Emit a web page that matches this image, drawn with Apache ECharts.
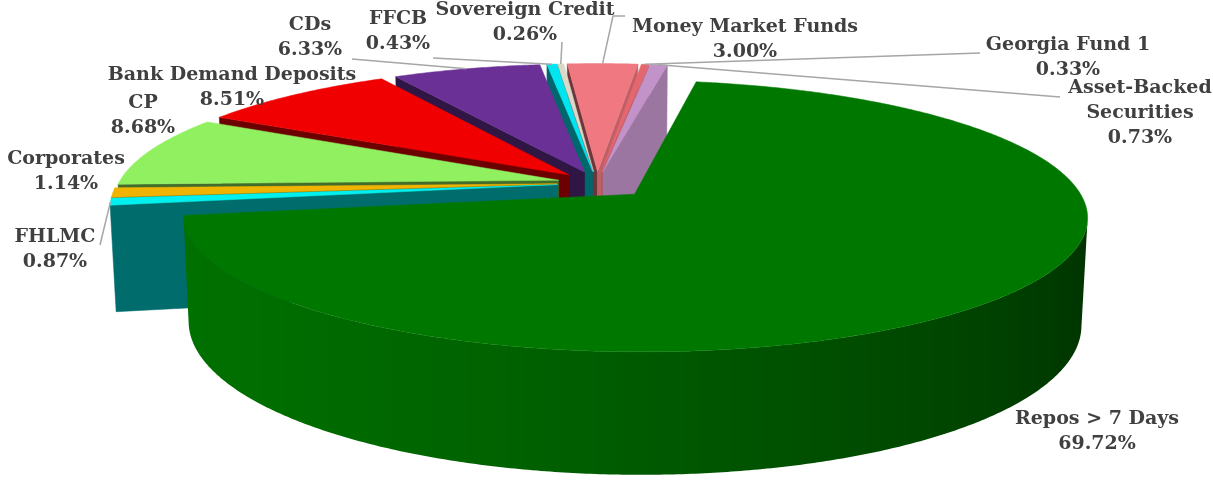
<!DOCTYPE html>
<html><head><meta charset="utf-8">
<script src="https://cdn.jsdelivr.net/npm/echarts@6/dist/echarts.min.js"></script>
<style>html,body{margin:0;padding:0;background:#fff}#c{width:1213px;height:480px}</style>
</head><body><div id="c"></div>
<script>
// ---- data ----
const categories = ['Repos > 7 Days','FHLMC','Corporates','CP','Bank Demand Deposits','CDs','FFCB','Sovereign Credit','Money Market Funds','Georgia Fund 1','Asset-Backed Securities'];
const shares = [69.72, 0.87, 1.14, 8.68, 8.51, 6.33, 0.43, 0.26, 3.00, 0.33, 0.73];

// ---- style / layout ----
const colors = ['#007800','#00f0f0','#f0b400','#90f060','#f00000','#6a3096','#00e6f0','#dcd8c8','#f07880','#e4666e','#c293c9'];
const explode = [0.12,0.09,0.09,0.09,0.09,0.09,0.09,0.09,0.09,0.09,0.09];
const labelAt = [[1097,432],[55,250],[66,172],[143,116],[232,88],[310,38],[398,32],[525,23],[745,40],[1068,58],[1140,113]];
const leaderTo = [null,[[100,245]],null,null,null,[[352,59]],[[433,58]],[[562,42]],[[625,16],[613,16]],[[980,53]],[[1060,97]]];
const labelNames = categories.map(n => n.replace(' Securities', '\nSecurities'));

const VIEW = {cx:597, cy:183, S:440, D:6, phi:17*Math.PI/180, H:0.25, start:10};

const total = shares.reduce((a,b)=>a+b,0);
const cum = []; { let acc = 0; shares.forEach(v => { cum.push(acc); acc += v; }); }

function shade(hex, k) {
  const n = parseInt(hex.slice(1),16);
  const r = Math.round(((n>>16)&255)*k), g = Math.round(((n>>8)&255)*k), b = Math.round((n&255)*k);
  return 'rgb(' + r + ',' + g + ',' + b + ')';
}

function renderItem(params, api) {
  const i = params.dataIndex;
  const v = api.value(0), st = api.value(1);
  const {cx, cy, S, D, phi, H} = VIEW;
  const sp = Math.sin(phi), cp = Math.cos(phi);
  const cam = [0, D*sp, D*cp];
  const rad = Math.PI/180;
  const a0 = VIEW.start + st/total*360, a1 = a0 + v/total*360, am = (a0+a1)/2;
  const ox = explode[i]*Math.sin(am*rad), oz = -explode[i]*Math.cos(am*rad);
  const P = (x,y,z) => { const d = D - (y*sp + z*cp); const Y = y*cp - z*sp; return [cx + S*D*x/d, cy - S*D*Y/d]; };
  const dist = (x,y,z) => Math.hypot(x-cam[0], y-cam[1], z-cam[2]);
  const rim = (a, y) => [ox + Math.sin(a*rad), y, oz - Math.cos(a*rad)];
  const col = colors[i];
  const children = [];
  // outer wall: contiguous visible runs, one polygon each with horizontal shading gradient
  const samples = [];
  for (let t = a0; t < a1; t += 0.5) samples.push(t);
  samples.push(a1);
  const vis = t => { const nx = Math.sin(t*rad), nz = -Math.cos(t*rad); return nx*(cam[0]-ox-nx) + nz*(cam[2]-oz-nz) > 0; };
  const runs = []; let cur = null;
  samples.forEach(t => { if (vis(t)) { if (!cur) { cur = []; runs.push(cur); } cur.push(t); } else cur = null; });
  runs.forEach(run => {
    if (run.length < 2) return;
    const topPts = run.map(t => P(...rim(t,0)));
    const botPts = run.map(t => P(...rim(t,-H))).reverse();
    const xs = topPts.map(p => p[0]);
    const xmin = Math.min(...xs), xmax = Math.max(...xs), w = Math.max(1e-6, xmax - xmin);
    const stops = run.map((t, j) => ({offset: (xs[j]-xmin)/w, color: shade(col, 0.657 - 0.257*Math.sin(t*rad) - 0.093*Math.cos(t*rad))}))
      .sort((a,b) => a.offset - b.offset);
    const tm = run[Math.floor(run.length/2)];
    const c = rim(tm, -H/2);
    children.push({type:'polygon', shape:{points: topPts.concat(botPts)},
      style:{fill:{type:'linear', x:xmin, y:0, x2:xmax, y2:0, global:true, colorStops:stops}},
      z2: Math.round(3000 - dist(...c)*300)});
  });
  // radial walls
  [[a0, -1, 0.45],[a1, 1, 0.8]].forEach(([a, sgn, k]) => {
    const nx = sgn*Math.cos(a*rad), nz = sgn*Math.sin(a*rad);
    const mx = ox + 0.5*Math.sin(a*rad), mz = oz - 0.5*Math.cos(a*rad);
    if (nx*(cam[0]-mx) + nz*(cam[2]-mz) <= 0) return;
    const pts = [P(ox,0,oz), P(...rim(a,0)), P(...rim(a,-H)), P(ox,-H,oz)];
    const c = shade(col, k);
    children.push({type:'polygon', shape:{points:pts}, style:{fill:c, stroke:c, lineWidth:0.5}, z2: Math.round(3000 - dist(mx,-H/2,mz)*300)});
  });
  // top face
  const top = [P(ox,0,oz)];
  const nT = Math.max(2, Math.ceil((a1-a0)/0.5));
  for (let s = 0; s <= nT; s++) top.push(P(...rim(a0 + (a1-a0)*s/nT, 0)));
  children.push({type:'polygon', shape:{points:top}, style:{fill:col, stroke:col, lineWidth:0.5}, z2: 5000});
  // label
  const [lx, ly] = labelAt[i];
  children.push({type:'text', z2: 7000, style:{text: labelNames[i] + '\n' + v.toFixed(2) + '%', x: lx, y: ly,
    fill:'#404040', fontSize:19, fontWeight:'bold', fontFamily:'"DejaVu Serif", serif', align:'center', verticalAlign:'middle', lineHeight:25}});
  if (leaderTo[i]) {
    const anchor = P(...rim(am, 0));
    const pts = leaderTo[i].concat([anchor]);
    children.push({type:'polyline', z2: 6000, shape:{points:pts}, style:{stroke:'#a6a6a6', lineWidth:1.5, fill:null}});
  }
  return {type:'group', children};
}

const chart = echarts.init(document.getElementById('c'), null, {renderer:'canvas'});
chart.setOption({
  animation:false,
  series:[{type:'custom', coordinateSystem:'none', renderItem, silent:true,
    data: shares.map((v,i)=>({name:categories[i], value:[v, cum[i]]}))}]
});
</script></body></html>
